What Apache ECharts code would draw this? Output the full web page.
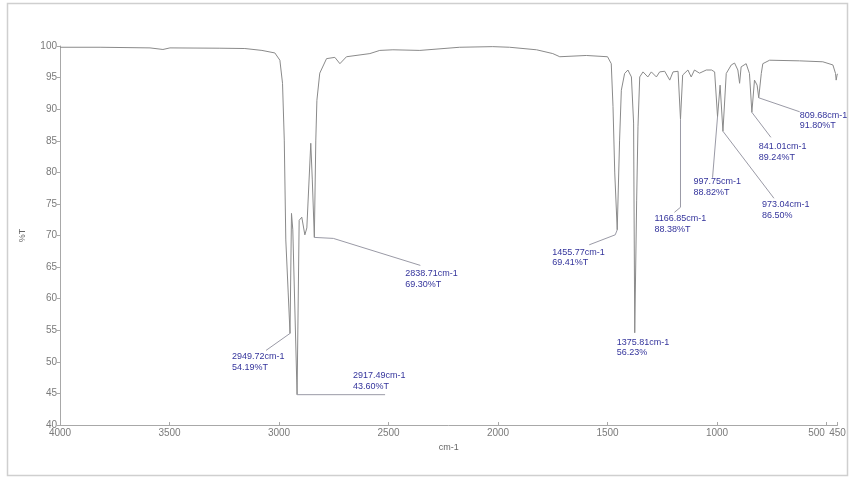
<!DOCTYPE html>
<html><head><meta charset="utf-8">
<script src="https://cdn.jsdelivr.net/npm/echarts@6/dist/echarts.min.js"></script>
<style>html,body{margin:0;padding:0;background:#fff}#c{width:852px;height:480px}</style>
</head><body><div id="c"></div>
<script>
// ---- data ----
const wavenumbers = [4000,3817,3589,3530,3498,3270,3156,3078,3019,2996,2984,2976,2969,2958,2949.72,2943,2937,2917.49,2908,2896,2882,2873,2855,2848,2838.71,2832,2827,2814,2783,2745,2722,2692,2585,2540,2480,2357,2175,2024,1947,1824,1750,1718,1597,1500,1483,1475,1467,1455.77,1445,1437,1422,1407,1391,1381,1375.81,1367,1361,1353,1338,1316,1300,1277,1262,1239,1216,1201,1178,1166.85,1157,1133,1118,1103,1080,1049,1025,1011,997.75,986,973.04,958,935,920,905,897,890,867,852,841.01,829,817,809.68,798,791,760,623,517,471,459,456,452,450];
const transmittance = [99.8,99.8,99.7,99.45,99.7,99.65,99.6,99.3,98.9,97.75,94.1,85.1,69.3,60.9,54.5,73.5,70.9,44.8,72.4,72.9,70.1,71.2,84.6,78.8,69.7,85.1,91.4,95.7,98.0,98.2,97.2,98.3,98.8,99.3,99.4,99.3,99.8,99.9,99.8,99.4,98.8,98.3,98.5,98.3,97.2,90.4,79.9,70.9,85.1,93.0,95.65,96.2,95.1,87.8,54.6,75.6,87.2,95.1,95.9,95.1,95.9,95.1,95.9,96.0,94.6,95.9,96.0,88.4,95.4,96.2,95.1,96.2,95.7,96.2,96.2,95.9,88.8,93.8,86.5,95.65,97.0,97.3,96.2,94.1,96.7,97.2,95.65,89.5,94.6,93.8,91.8,95.65,97.2,97.75,97.65,97.5,97.0,95.65,94.6,95.4,95.6];
const xTickValues = [4000,3500,3000,2500,2000,1500,1000,500,450];
const yMin = 40, yMax = 100, yStep = 5;
const peakWavenumbers = ['2949.72','2917.49','2838.71','1455.77','1375.81','1166.85','997.75','973.04','841.01','809.68'];
const peakPlotT = [54.5,44.8,69.7,70.9,54.6,88.4,88.8,86.5,89.5,91.8];
const peakTLabels = ['54.19%T','43.60%T','69.30%T','69.41%T','56.23%','88.38%T','88.82%T','86.50%','89.24%T','91.80%T'];

// ---- layout (pixel offsets from each peak) ----
const annotLayout = [
  {leader:[[0,0],[-24,17]], text:[-58,18]},
  {leader:[[0,0],[88,0]], text:[56,-24]},
  {leader:[[0,0],[19,1],[106,28]], text:[91,31]},
  {leader:[[0,0],[-2,5],[-28,15]], text:[-65,17]},
  {leader:[], text:[-18,4]},
  {leader:[[0,0],[0,88],[-6,93]], text:[-26,94]},
  {leader:[[0,0],[-5,61]], text:[-24,60]},
  {leader:[[0,0],[51,67]], text:[39,68]},
  {leader:[[0,0],[19,25]], text:[7,29]},
  {leader:[[0,0],[41,14]], text:[41,12]}
];

const chart = echarts.init(document.getElementById('c'), null, {renderer:'canvas'});
const axisGray = '#a8a8a8', labelGray = '#7a7a7a';
chart.setOption({
  animation:false,
  backgroundColor:'#fff',
  grid:{left:60, right:14.5, top:46, bottom:55, containLabel:false},
  xAxis:{
    type:'value', min:450, max:4000, inverse:true,
    name:'cm-1', nameLocation:'middle', nameGap:13,
    nameTextStyle:{color:'#666', fontSize:9, fontFamily:'Liberation Sans'},
    axisLine:{show:true, lineStyle:{color:axisGray, width:1}},
    axisTick:{show:true, inside:true, length:3, customValues:xTickValues, lineStyle:{color:axisGray}},
    axisLabel:{customValues:xTickValues, color:labelGray, fontSize:10, fontFamily:'Liberation Sans', margin:3,
      formatter:function(v){ return v===500 ? '{l|500}' : String(v); },
      rich:{l:{padding:[0,20,0,0], color:labelGray, fontSize:10, fontFamily:'Liberation Sans'}}},
    splitLine:{show:false}
  },
  yAxis:{
    type:'value', min:yMin, max:yMax, interval:yStep,
    name:'%T', nameLocation:'middle', nameGap:33, nameRotate:90,
    nameTextStyle:{color:'#666', fontSize:9, fontFamily:'Liberation Sans'},
    axisLine:{show:true, lineStyle:{color:axisGray, width:1}},
    axisTick:{show:true, length:3, lineStyle:{color:axisGray}},
    axisLabel:{color:labelGray, fontSize:10, fontFamily:'Liberation Sans', margin:3},
    splitLine:{show:false}
  },
  series:[{
    type:'line', showSymbol:false, symbol:'none',
    data: wavenumbers.map((w,i)=>[w, transmittance[i]]),
    lineStyle:{color:'#8a8a8a', width:1}, z:3
  }]
});

const g = [{type:'rect', shape:{x:7.5,y:3.5,width:840,height:472}, style:{stroke:'#cfcfcf', lineWidth:1.5, fill:null}, silent:true, z:0}];
peakWavenumbers.forEach((wn,i)=>{
  const p = chart.convertToPixel({seriesIndex:0}, [parseFloat(wn), peakPlotT[i]]);
  const L = annotLayout[i];
  if (L.leader.length > 1) {
    g.push({type:'polyline', silent:true, z:5,
      shape:{points:L.leader.map(o=>[p[0]+o[0], p[1]+o[1]])},
      style:{stroke:'#9a9aa6', lineWidth:1, fill:null}});
  }
  g.push({type:'text', silent:true, z:6, x:p[0]+L.text[0], y:p[1]+L.text[1],
    style:{text: wn+'cm-1\n'+peakTLabels[i], fill:'#34349c', font:'9px "Liberation Sans"', lineHeight:10.5}});
});
chart.setOption({graphic:g});
</script>
</body></html>
